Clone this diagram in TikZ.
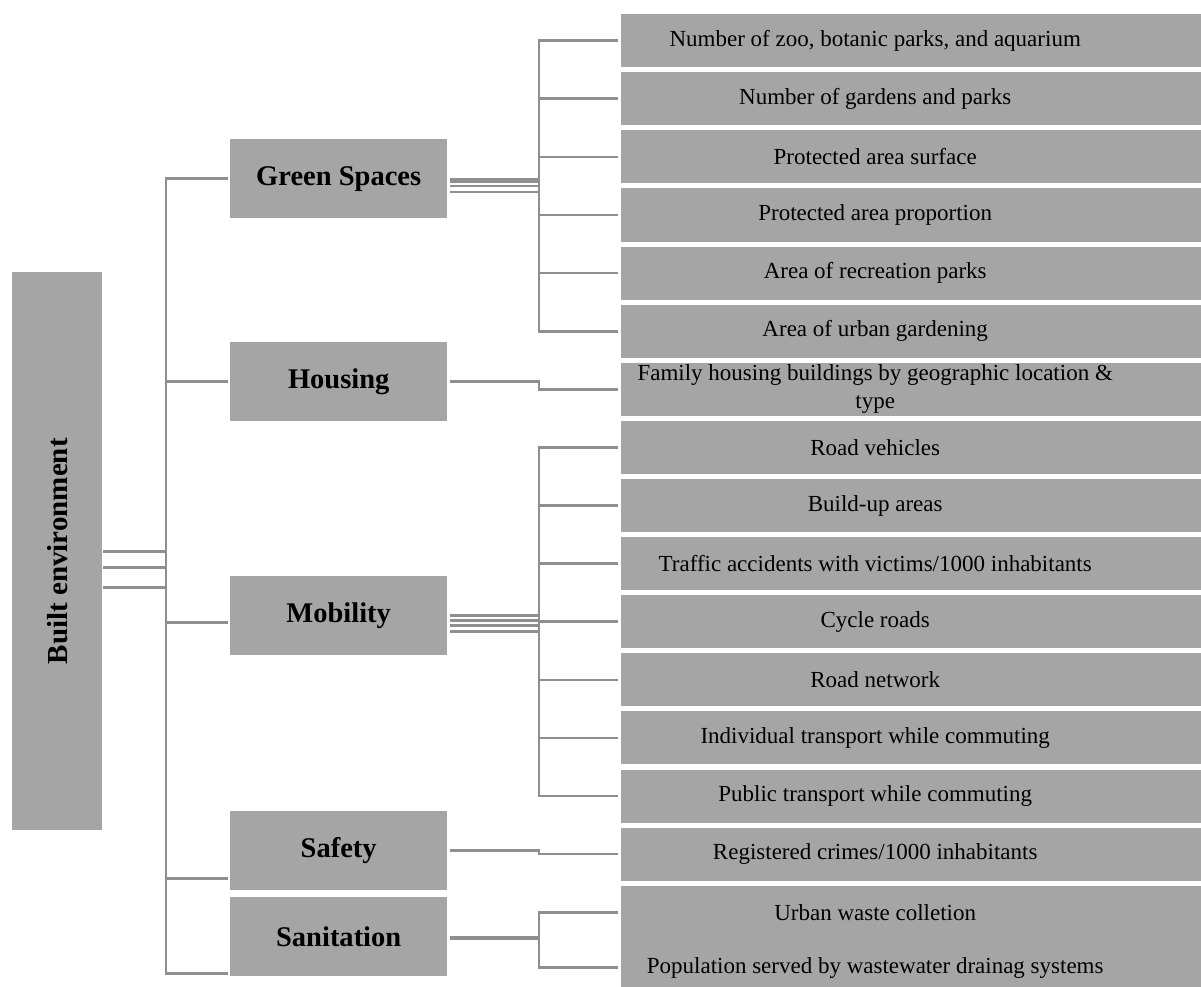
\documentclass[tikz,border=0pt]{standalone}
\usepackage{fontspec}
\setmainfont{Liberation Serif}
\usetikzlibrary{calc}
\pgfdeclarelayer{bg}
\pgfsetlayers{bg,main}
\definecolor{boxgray}{HTML}{A5A5A5}
\definecolor{linegray}{HTML}{8F8F8F}
\newcommand\leaftxt[1]{\parbox{500pt}{\centering #1}\hspace*{72pt}}
\begin{document}
\begin{tikzpicture}[x=1pt,y=-1pt,
  box/.style={fill=boxgray, inner sep=0pt, anchor=north west, align=center},
  rootbox/.style={box, minimum width=90pt, minimum height=558pt, font=\fontsize{29}{32}\selectfont\bfseries},
  mid/.style={box, minimum width=217pt, minimum height=79pt, font=\fontsize{28.5}{32}\selectfont\bfseries},
  leaf/.style={box, minimum width=580pt, minimum height=53pt, font=\fontsize{23}{28}\selectfont},
  conn/.style={draw=linegray, line width=2.6pt, line cap=rect},
  thickconn/.style={draw=linegray, line width=4pt, line cap=rect}]
\useasboundingbox (0,0) rectangle (1201,987);

% root
\node[rootbox] (root) at (12,272) {\rotatebox{90}{Built environment}};

% middle level
\node[mid] (gs)  at (230,139) {Green Spaces};
\node[mid] (hs)  at (230,342) {Housing};
\node[mid] (mob) at (230,576) {Mobility};
\node[mid] (saf) at (230,811) {Safety};
\node[mid] (san) at (230,897) {Sanitation};

% leaves
\node[leaf] (l1)  at (621,14)    {\leaftxt{Number of zoo, botanic parks, and aquarium}};
\node[leaf] (l2)  at (621,72.1)  {\leaftxt{Number of gardens and parks}};
\node[leaf] (l3)  at (621,130.2) {\leaftxt{Protected area surface}};
\node[leaf] (l4)  at (621,188.3) {\leaftxt{Protected area proportion}};
\node[leaf] (l5)  at (621,246.4) {\leaftxt{Area of recreation parks}};
\node[leaf] (l6)  at (621,304.5) {\leaftxt{Area of urban gardening}};
\node[leaf] (l7)  at (621,362.6) {\raisebox{-3pt}{\leaftxt{Family housing buildings by geographic location \&\\ type}}};
\node[leaf] (l8)  at (621,420.7) {\leaftxt{Road vehicles}};
\node[leaf] (l9)  at (621,478.8) {\leaftxt{Build-up areas}};
\node[leaf] (l10) at (621,536.9) {\leaftxt{Traffic accidents with victims/1000 inhabitants}};
\node[leaf] (l11) at (621,595)   {\leaftxt{Cycle roads}};
\node[leaf] (l12) at (621,653.1) {\leaftxt{Road network}};
\node[leaf] (l13) at (621,711.2) {\leaftxt{Individual transport while commuting}};
\node[leaf] (l14) at (621,769.3) {\leaftxt{Public transport while commuting}};
\node[leaf] (l15) at (621,827.4) {\leaftxt{Registered crimes/1000 inhabitants}};
\node[leaf] (l16) at (621,885.5) {\leaftxt{Urban waste colletion}};
\node[leaf, minimum height=57pt] (l17) at (621,939) {\leaftxt{Population served by wastewater drainag systems}};

\coordinate (rbus) at (166,0);
\coordinate (bus) at (539,0);

\begin{pgfonlayer}{bg}
% root to middle level
\foreach \dy in {0,-16,-36}
  \draw[conn] ([xshift=2pt,yshift=\dy pt]root.east) -- ([yshift=\dy pt]root.east -| rbus);
\draw[conn] (gs.west -| rbus) -- ([yshift=-36.5pt]san.west -| rbus);
\draw[conn] (gs.west -| rbus) -- ([xshift=-3pt]gs.west);
\draw[conn] (hs.west -| rbus) -- ([xshift=-3pt]hs.west);
\draw[conn] ([yshift=-6.5pt]mob.west -| rbus) -- ([xshift=-3pt,yshift=-6.5pt]mob.west);
\draw[conn] ([yshift=-28pt]saf.west -| rbus) -- ([xshift=-3pt,yshift=-28pt]saf.west);
\draw[conn] ([yshift=-36.5pt]san.west -| rbus) -- ([xshift=-3pt,yshift=-36.5pt]san.west);

% green spaces
\foreach \dy in {-0.5,-3,-7.5,-13.5}
  \draw[conn, line cap=butt] ([xshift=3pt,yshift=\dy pt]gs.east) -- ([yshift=\dy pt]gs.east -| bus);
\draw[conn] (l1.west -| bus) -- (l6.west -| bus);
\foreach \i in {1,...,6}
  \draw[conn, line cap=butt] (l\i.west -| bus) -- ([xshift=-3pt]l\i.west);

% housing
\draw[conn, line cap=butt] ([xshift=3pt]hs.east) -- (hs.east -| bus) -- (l7.west -| bus) -- ([xshift=-3pt]l7.west);

% mobility
\foreach \dy in {0,-4.5,-10,-15.5}
  \draw[conn, line cap=butt] ([xshift=3pt,yshift=\dy pt]mob.east) -- ([yshift=\dy pt]mob.east -| bus);
\draw[conn] (l8.west -| bus) -- (l14.west -| bus);
\foreach \i in {8,...,14}
  \draw[conn, line cap=butt] (l\i.west -| bus) -- ([xshift=-3pt]l\i.west);

% safety
\draw[conn, line cap=butt] ([xshift=3pt]saf.east) -- (saf.east -| bus) -- (l15.west -| bus) -- ([xshift=-3pt]l15.west);

% sanitation
\draw[thickconn, line cap=butt] ([xshift=3pt,yshift=-1.5pt]san.east) -- ([yshift=-1.5pt]san.east -| bus);
\draw[conn] (l16.west -| bus) -- (l17.west -| bus);
\foreach \i in {16,17}
  \draw[conn, line cap=butt] (l\i.west -| bus) -- ([xshift=-3pt]l\i.west);
\end{pgfonlayer}
\end{tikzpicture}
\end{document}
